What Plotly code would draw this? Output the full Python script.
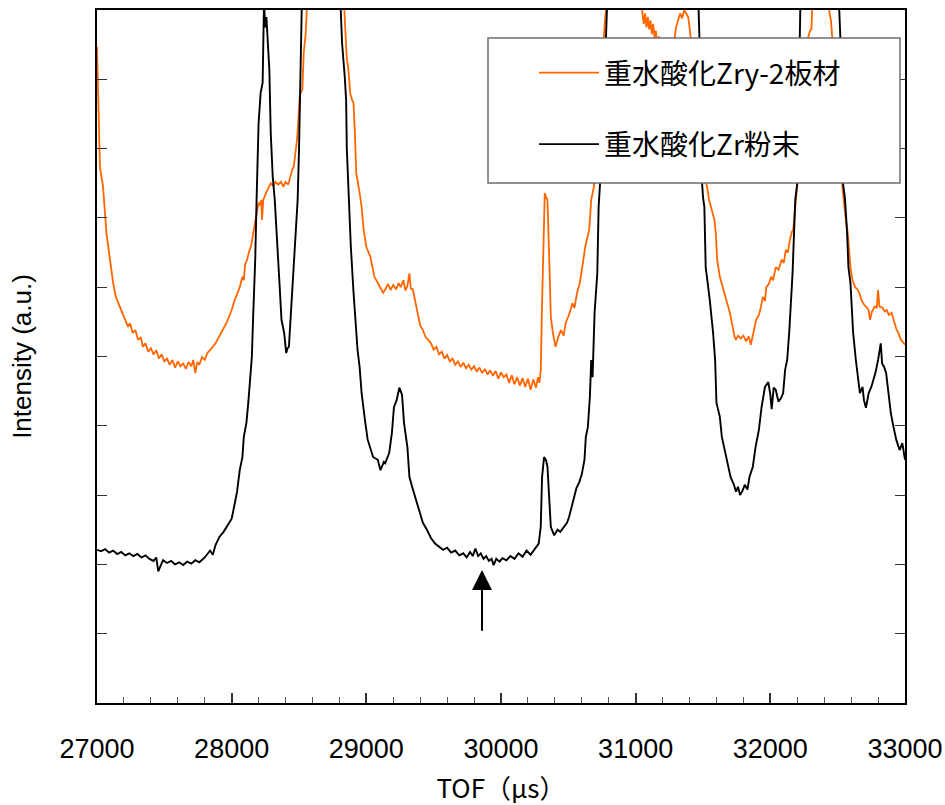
import plotly.graph_objects as go

# ---- data (TOF in microseconds, intensity in arbitrary units) ----
powder_tof = [
    27000, 27030, 27060, 27090, 27120, 27150, 27180, 27210, 27240, 27270,
    27300, 27330, 27360, 27390, 27420, 27440, 27455, 27490, 27520, 27550,
    27580, 27610, 27640, 27670, 27700, 27730, 27760, 27800, 27840, 27860,
    27880, 27910, 27940, 27970, 28000, 28020, 28040, 28060, 28080, 28090,
    28110, 28125, 28140, 28150, 28160, 28175, 28185, 28200, 28215, 28230,
    28240, 28250, 28258, 28270, 28280, 28290, 28305, 28320, 28340, 28355,
    28370, 28390, 28405, 28415, 28425, 28440, 28455, 28475, 28490, 28500,
    28510, 28520, 28530, 28600, 28700, 28780, 28800, 28810, 28820, 28840,
    28850, 28855, 28870, 28885, 28905, 28920, 28935, 28950, 28965, 28990,
    29010, 29050, 29085, 29105, 29130, 29140, 29170, 29190, 29205, 29225,
    29245, 29265, 29280, 29305, 29320, 29340, 29375, 29400, 29420, 29450,
    29480, 29510, 29540, 29570, 29600, 29630, 29660, 29690, 29720, 29745,
    29770, 29790, 29810, 29830, 29850, 29870, 29890, 29910, 29930, 29945,
    29965, 29990, 30010, 30040, 30070, 30100, 30130, 30160, 30190, 30220,
    30250, 30280, 30295, 30305, 30320, 30335, 30345, 30360, 30370, 30395,
    30420, 30440, 30470, 30490, 30505, 30520, 30540, 30560, 30580, 30600,
    30620, 30630, 30645, 30660, 30670, 30680, 30695, 30715, 30725, 30735,
    30745, 30760, 30775, 30790, 30810, 30900, 31100, 31300, 31440, 31460,
    31475, 31490, 31500, 31510, 31520, 31550, 31575, 31590, 31600, 31625,
    31640, 31660, 31680, 31705, 31730, 31745, 31760, 31775, 31795, 31810,
    31830, 31845, 31870, 31890, 31915, 31935, 31960, 31985, 32000, 32010,
    32025, 32040, 32060, 32080, 32095, 32110, 32125, 32140, 32165, 32175,
    32185, 32200, 32215, 32225, 32240, 32350, 32480, 32505, 32520, 32540,
    32555, 32570, 32580, 32595, 32605, 32615, 32635, 32650, 32665, 32685,
    32695, 32710, 32730, 32750, 32780, 32800, 32820, 32830, 32845, 32860,
    32880, 32895, 32915, 32935, 32960, 32980, 33000,
]
powder_int = [
    2.21, 2.19, 2.22, 2.17, 2.20, 2.15, 2.18, 2.13, 2.16, 2.12,
    2.15, 2.10, 2.13, 2.08, 2.05, 2.10, 1.90, 2.06, 2.02, 2.05,
    2.00, 2.03, 1.99, 2.04, 2.01, 2.06, 2.03, 2.10, 2.20, 2.14,
    2.28, 2.40, 2.47, 2.56, 2.66, 2.85, 3.05, 3.36, 3.55, 3.84,
    4.05, 4.37, 4.80, 5.00, 5.60, 6.40, 7.26, 8.37, 8.80, 8.95,
    10.1, 9.75, 9.90, 9.52, 9.13, 8.23, 7.59, 7.26, 6.64, 6.06,
    5.53, 5.34, 5.05, 5.12, 5.14, 5.63, 6.00, 6.68, 7.26, 7.98,
    8.95, 10.0, 11.0, 12.0, 13.0, 12.0, 11.0, 10.0, 9.52, 9.03,
    8.70, 8.00, 7.26, 6.58, 5.92, 5.48, 5.09, 4.85, 4.47, 4.08,
    3.80, 3.55, 3.51, 3.36, 3.48, 3.46, 3.61, 3.90, 4.27, 4.37,
    4.55, 4.45, 4.04, 3.69, 3.26, 3.12, 2.89, 2.74, 2.60, 2.50,
    2.38, 2.30, 2.26, 2.21, 2.24, 2.17, 2.20, 2.13, 2.16, 2.10,
    2.18, 2.12, 2.23, 2.12, 2.16, 2.08, 2.12, 2.05, 2.08, 1.99,
    2.08, 2.04, 2.09, 2.06, 2.12, 2.08, 2.16, 2.11, 2.20, 2.14,
    2.22, 2.30, 2.54, 3.26, 3.55, 3.50, 3.41, 2.93, 2.54, 2.42,
    2.50, 2.47, 2.54, 2.60, 2.68, 2.80, 2.97, 3.10, 3.18, 3.30,
    3.51, 3.84, 3.98, 4.42, 4.95, 4.70, 5.63, 6.20, 7.16, 7.45,
    7.80, 8.50, 9.50, 10.2, 11.0, 12.5, 13.0, 12.5, 11.0, 10.5,
    9.50, 7.60, 7.30, 7.16, 6.29, 5.82, 5.34, 4.95, 4.33, 4.13,
    3.84, 3.65, 3.46, 3.26, 3.15, 3.05, 3.12, 3.00, 3.07, 3.15,
    3.08, 3.26, 3.41, 3.69, 3.94, 4.27, 4.56, 4.63, 4.45, 4.24,
    4.55, 4.52, 4.35, 4.40, 4.47, 4.81, 4.95, 5.34, 6.20, 6.78,
    7.26, 7.50, 9.50, 10.3, 11.0, 12.5, 11.5, 10.3, 9.60, 7.50,
    7.26, 6.78, 6.29, 6.06, 5.57, 5.34, 4.95, 4.66, 4.47, 4.56,
    4.37, 4.26, 4.47, 4.56, 4.76, 4.95, 5.19, 4.90, 4.85, 4.76,
    4.42, 4.18, 3.98, 3.80, 3.65, 3.75, 3.51,
]

plate_tof = [
    27000, 27005, 27012, 27022, 27045, 27055, 27070, 27090, 27105, 27120,
    27140, 27170, 27200, 27230, 27245, 27265, 27285, 27305, 27325, 27340,
    27360, 27380, 27400, 27420, 27440, 27460, 27480, 27500, 27520, 27540,
    27560, 27580, 27600, 27620, 27640, 27660, 27680, 27700, 27715, 27730,
    27745, 27760, 27780, 27800, 27820, 27840, 27860, 27880, 27900, 27920,
    27940, 27960, 27980, 28000, 28020, 28040, 28060, 28080, 28090, 28100,
    28115, 28130, 28145, 28160, 28175, 28185, 28200, 28210, 28220, 28225,
    28235, 28255, 28275, 28290, 28310, 28325, 28345, 28365, 28385, 28400,
    28420, 28435, 28450, 28460, 28475, 28485, 28495, 28505, 28515, 28525,
    28535, 28550, 28560, 28580, 28650, 28750, 28810, 28830, 28840, 28855,
    28865, 28880, 28895, 28905, 28915, 28925, 28950, 28965, 28980, 29000,
    29030, 29045, 29060, 29085, 29100, 29125, 29145, 29160, 29180, 29200,
    29220, 29240, 29255, 29275, 29290, 29305, 29320, 29330, 29345, 29365,
    29385, 29400, 29420, 29440, 29460, 29480, 29500, 29520, 29540, 29560,
    29580, 29600, 29620, 29640, 29660, 29680, 29700, 29720, 29740, 29760,
    29780, 29800, 29820, 29840, 29860, 29880, 29900, 29920, 29940, 29960,
    29980, 30000, 30020, 30040, 30060, 30080, 30100, 30120, 30140, 30160,
    30180, 30200, 30220, 30240, 30260, 30275, 30285, 30295, 30305, 30315,
    30325, 30335, 30345, 30360, 30370, 30385, 30405, 30425, 30445, 30465,
    30480, 30510, 30530, 30545, 30565, 30585, 30600, 30615, 30625, 30645,
    30655, 30670, 30690, 30710, 30730, 30750, 30770, 30790, 30800, 30900,
    31000, 31040, 31050, 31060, 31070, 31080, 31090, 31100, 31110, 31120,
    31130, 31140, 31150, 31160, 31175, 31190, 31210, 31230, 31250, 31270,
    31290, 31300, 31315, 31330, 31345, 31360, 31375, 31390, 31400, 31410,
    31420, 31440, 31460, 31480, 31500, 31530, 31545, 31570, 31585, 31595,
    31605, 31625, 31645, 31670, 31700, 31720, 31735, 31745, 31760, 31780,
    31800, 31820, 31840, 31855, 31870, 31885, 31895, 31915, 31925, 31945,
    31960, 31970, 31990, 32005, 32020, 32040, 32060, 32085, 32100, 32115,
    32130, 32145, 32160, 32170, 32180, 32190, 32200, 32215, 32240, 32260,
    32280, 32295, 32305, 32315, 32330, 32400, 32430, 32440, 32450, 32460,
    32475, 32500, 32520, 32535, 32555, 32575, 32585, 32595, 32610, 32630,
    32650, 32660, 32680, 32695, 32715, 32730, 32740, 32755, 32775, 32790,
    32800, 32810, 32830, 32850, 32865, 32880, 32900, 32920, 32935, 32950,
    32970, 33000,
]
plate_int = [
    9.47, 9.09, 8.31, 7.73, 7.45, 7.11, 6.78, 6.49, 6.25, 6.06,
    5.86, 5.71, 5.57, 5.43, 5.48, 5.34, 5.38, 5.24, 5.28, 5.14,
    5.19, 5.07, 5.12, 5.03, 5.09, 4.97, 5.03, 4.93, 4.97, 4.88,
    4.95, 4.84, 4.93, 4.86, 4.90, 4.82, 4.92, 4.86, 4.95, 4.76,
    4.92, 4.88, 4.99, 4.95, 5.05, 5.09, 5.14, 5.19, 5.26, 5.34,
    5.40, 5.48, 5.57, 5.67, 5.80, 5.90, 6.00, 6.15, 6.10, 6.33,
    6.40, 6.52, 6.60, 6.78, 6.97, 7.07, 7.22, 7.18, 7.26, 6.97,
    7.26, 7.36, 7.45, 7.50, 7.46, 7.52, 7.48, 7.52, 7.45, 7.52,
    7.48, 7.59, 7.70, 7.73, 7.98, 8.12, 8.40, 8.75, 8.82, 8.85,
    9.38, 9.67, 10.1, 11.0, 12.5, 12.5, 11.0, 10.2, 9.86, 9.30,
    9.18, 8.80, 8.70, 8.66, 8.23, 7.65, 7.36, 7.16, 6.83, 6.58,
    6.44, 6.30, 6.15, 6.06, 6.00, 5.92, 5.98, 6.05, 5.96, 6.03,
    5.97, 6.06, 6.00, 6.10, 5.95, 6.02, 6.20, 5.98, 5.97, 5.77,
    5.57, 5.45, 5.38, 5.28, 5.24, 5.19, 5.10, 5.14, 5.03, 5.07,
    4.97, 5.02, 4.93, 4.97, 4.88, 4.93, 4.85, 4.91, 4.83, 4.88,
    4.81, 4.86, 4.78, 4.84, 4.76, 4.82, 4.74, 4.80, 4.72, 4.79,
    4.68, 4.77, 4.70, 4.74, 4.62, 4.73, 4.60, 4.70, 4.58, 4.69,
    4.56, 4.68, 4.52, 4.67, 4.55, 4.70, 4.62, 4.80, 5.77, 6.78,
    7.36, 7.30, 7.26, 6.29, 5.57, 5.34, 5.14, 5.28, 5.38, 5.30,
    5.48, 5.63, 5.77, 5.70, 5.92, 6.06, 6.29, 6.44, 6.58, 6.72,
    6.83, 7.26, 7.45, 7.80, 8.50, 9.20, 9.80, 10.2, 11.0, 12.0,
    11.5, 10.3, 9.95, 9.80, 9.95, 9.75, 9.90, 9.72, 9.85, 9.65,
    9.80, 9.60, 9.70, 9.50, 9.62, 9.40, 9.30, 9.35, 9.30, 9.45,
    9.60, 9.75, 9.85, 9.95, 9.88, 10.0, 9.95, 9.90, 9.75, 9.60,
    9.40, 9.00, 8.50, 8.00, 7.70, 7.45, 7.26, 7.07, 6.97, 6.78,
    6.40, 6.15, 6.00, 5.82, 5.63, 5.43, 5.28, 5.24, 5.30, 5.26,
    5.30, 5.22, 5.29, 5.17, 5.30, 5.45, 5.53, 5.60, 5.67, 5.86,
    5.80, 6.00, 6.05, 6.15, 6.10, 6.29, 6.25, 6.40, 6.35, 6.54,
    6.50, 6.68, 6.80, 6.83, 7.07, 7.26, 7.45, 7.80, 8.60, 9.20,
    9.60, 9.70, 9.72, 10.3, 11.0, 12.0, 10.2, 9.95, 9.85, 9.60,
    9.00, 8.30, 7.80, 7.45, 7.07, 6.78, 6.54, 6.29, 6.10, 6.00,
    5.96, 5.92, 5.80, 5.75, 5.71, 5.67, 5.53, 5.65, 5.72, 5.70,
    5.96, 5.72, 5.71, 5.65, 5.67, 5.60, 5.63, 5.48, 5.40, 5.34,
    5.24, 5.17,
]

series_names = ["重水酸化Zry-2板材", "重水酸化Zr粉末"]
x_ticks = [27000, 28000, 29000, 30000, 31000, 32000, 33000]
arrow_tof = 29859
arrow_tip, arrow_tail = 1.92, 1.02

ORANGE = "#FF6600"
BLACK = "#000000"

fig = go.Figure()
fig.add_trace(go.Scatter(x=plate_tof, y=plate_int, mode="lines", name=series_names[0],
                         line=dict(color=ORANGE, width=1.8), legendgroup="a"))
fig.add_trace(go.Scatter(x=powder_tof, y=powder_int, mode="lines", name=series_names[1],
                         line=dict(color=BLACK, width=1.9), legendgroup="b"))

# legend frame (white box hiding curves behind it)
fig.add_shape(type="rect", xref="paper", yref="paper",
              x0=(488 - 97) / 808, x1=(900 - 97) / 808,
              y0=(703 - 183) / 693, y1=(703 - 38) / 693,
              line=dict(color="#6e6e6e", width=1.5), fillcolor="white", layer="above")

fig.add_annotation(x=arrow_tof, y=arrow_tip, ax=arrow_tof, ay=arrow_tail,
                   xref="x", yref="y", axref="x", ayref="y",
                   showarrow=True, arrowhead=2, arrowsize=2, arrowwidth=2,
                   arrowcolor="black", text="")

fig.update_layout(
    width=945, height=805,
    margin=dict(l=97, r=40, t=10, b=102),
    paper_bgcolor="white", plot_bgcolor="white",
    font=dict(family="Liberation Sans, Arial, sans-serif", color="black", size=26),
    showlegend=True,
    legend=dict(x=(534 - 97) / 808, y=(703 - 48) / 693, xanchor="left", yanchor="top",
                bgcolor="rgba(0,0,0,0)", borderwidth=0, itemwidth=60,
                tracegroupgap=32,
                font=dict(family="Noto Sans CJK JP", size=28, color="black")),
    xaxis=dict(range=[27000, 33000], tickvals=x_ticks, ticktext=[str(v) for v in x_ticks],
               ticks="inside", ticklen=10, tickwidth=1.5, tickcolor="#333",
               minor=dict(ticks="inside", ticklen=6, dtick=200, tickcolor="#555", tickwidth=1),
               showline=True, linecolor="black", linewidth=2, mirror=True,
               showgrid=False, zeroline=False, ticklabelstandoff=21, automargin=False,
               tickfont=dict(family="Liberation Sans, Arial", size=27),
               title=dict(text="TOF（μs）", standoff=18,
                          font=dict(family="Noto Sans CJK JP", size=26))),
    yaxis=dict(range=[0, 10], dtick=1, ticks="inside", ticklen=10, tickwidth=1.2,
               tickcolor="#333", showticklabels=False, automargin=False,
               showline=True, linecolor="black", linewidth=2, mirror="ticks",
               showgrid=False, zeroline=False,
               title=dict(text="Intensity (a.u.)", standoff=56,
                          font=dict(family="Liberation Sans, Arial", size=26))),
)

fig.write_html("out.html", config={"displayModeBar": False},
               post_script="document.body.style.margin='0';document.body.style.overflow='hidden';")
